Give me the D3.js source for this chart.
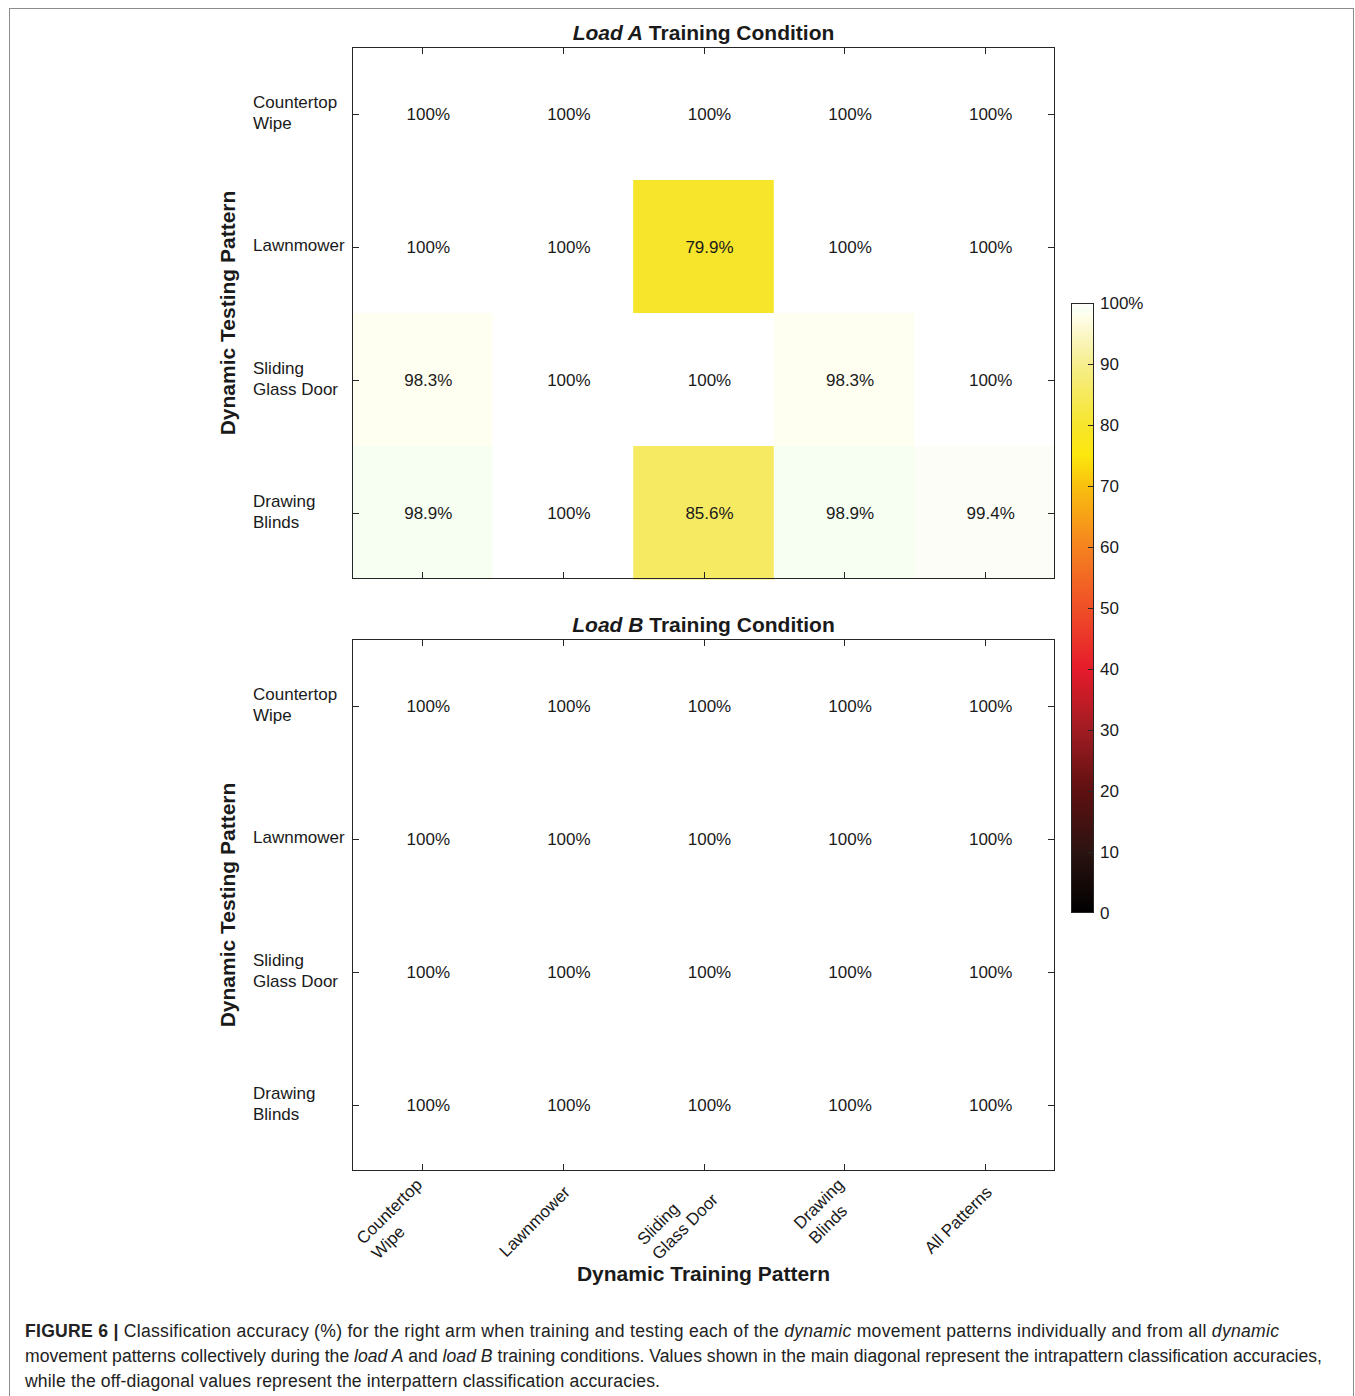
<!DOCTYPE html>
<html>
<head>
<meta charset="utf-8">
<script src="https://cdn.jsdelivr.net/npm/d3@7"></script>
<style>
  body { margin: 0; background: #fff; }
  svg { display: block; font-family: "Liberation Sans", Arial, sans-serif; }
</style>
</head>
<body>
<svg id="chart" width="1355" height="1396"></svg>
<script>
// training patterns (columns) and testing patterns (rows)
var trainLabels = [["Countertop", "Wipe"], ["Lawnmower"], ["Sliding", "Glass Door"], ["Drawing", "Blinds"], ["All Patterns"]];
var testLabels = [["Countertop", "Wipe"], ["Lawnmower"], ["Sliding", "Glass Door"], ["Drawing", "Blinds"]];

// accuracy (%) rows = testing, cols = training
var loadA = [
  [100, 100, 100, 100, 100],
  [100, 100, 79.9, 100, 100],
  [98.3, 100, 100, 98.3, 100],
  [98.9, 100, 85.6, 98.9, 99.4]
];
var loadB = [
  [100, 100, 100, 100, 100],
  [100, 100, 100, 100, 100],
  [100, 100, 100, 100, 100],
  [100, 100, 100, 100, 100]
];

var cbTicks = [0, 10, 20, 30, 40, 50, 60, 70, 80, 90, 100];

// colormap stops
var cmapStops = [0, 10, 20, 30, 40, 50, 60, 70, 75, 80, 90, 95, 98.3, 98.9, 99.4, 100];
var cmapColors = ["#000000", "#2b1311", "#5e1010", "#a01c22", "#e61b2b", "#ef4f27", "#f5821f", "#f9c00f", "#fce70d", "#f7e52c", "#f6ee8e", "#fbf7c8", "#fefff0", "#f7fef2", "#fcfdf7", "#ffffff"];

var color = d3.scaleLinear().domain(cmapStops).range(cmapColors).interpolate(d3.interpolateRgb);

var svg = d3.select("#chart");
var axisCol = "#262626";
var textCol = "#1a1a1a";

// outer figure frame
svg.append("rect").attr("x", 9.5).attr("y", 8.5).attr("width", 1344).attr("height", 1400)
  .attr("fill", "none").attr("stroke", "#8c8c8c").attr("stroke-width", 1);

var left = 352, right = 1055;
var x = d3.scaleBand().domain(d3.range(trainLabels.length)).range([left, right]).padding(0);

var panels = [
  { data: loadA, top: 47, bottom: 579, title: "Load A" },
  { data: loadB, top: 639, bottom: 1171, title: "Load B" }
];

panels.forEach(function (p, pi) {
  var y = d3.scaleBand().domain(d3.range(testLabels.length)).range([p.top, p.bottom]).padding(0);
  var g = svg.append("g");

  // cells
  p.data.forEach(function (row, r) {
    row.forEach(function (v, c) {
      g.append("rect")
        .attr("x", x(c)).attr("y", y(r))
        .attr("width", x.bandwidth() + 0.5).attr("height", y.bandwidth() + 0.5)
        .attr("fill", color(v));
      g.append("text")
        .attr("x", x(c) + x.bandwidth() / 2 + 6)
        .attr("y", y(r) + y.bandwidth() / 2 + 1)
        .attr("dy", "0.35em")
        .attr("text-anchor", "middle")
        .attr("font-size", 17)
        .attr("fill", textCol)
        .text((v === 100 ? "100" : v.toFixed(1)) + "%");
    });
  });

  // box + inward ticks
  g.append("rect").attr("x", left + 0.5).attr("y", p.top + 0.5)
    .attr("width", right - left - 1).attr("height", p.bottom - p.top - 1)
    .attr("fill", "none").attr("stroke", axisCol).attr("stroke-width", 1);

  var tl = 7;
  trainLabels.forEach(function (d, c) {
    var cx = Math.round(x(c) + x.bandwidth() / 2) + 0.5;
    g.append("line").attr("x1", cx).attr("x2", cx).attr("y1", p.top).attr("y2", p.top + tl).attr("stroke", axisCol);
    g.append("line").attr("x1", cx).attr("x2", cx).attr("y1", p.bottom).attr("y2", p.bottom - tl).attr("stroke", axisCol);
  });
  testLabels.forEach(function (d, r) {
    var cy = Math.round(y(r) + y.bandwidth() / 2) + 0.5;
    g.append("line").attr("x1", left).attr("x2", left + tl).attr("y1", cy).attr("y2", cy).attr("stroke", axisCol);
    g.append("line").attr("x1", right).attr("x2", right - tl).attr("y1", cy).attr("y2", cy).attr("stroke", axisCol);

    // y tick labels, left aligned
    var lh = 21;
    var t = g.append("text").attr("font-size", 17).attr("fill", textCol);
    d.forEach(function (line, i) {
      t.append("tspan").attr("x", 253)
        .attr("y", cy - 2 + (i - (d.length - 1) / 2) * lh)
        .attr("dy", "0.35em")
        .text(line);
    });
  });

  // panel title
  var tt = g.append("text").attr("x", (left + right) / 2).attr("y", p.top - 7)
    .attr("text-anchor", "middle").attr("font-size", 21).attr("font-weight", "bold").attr("fill", textCol);
  tt.append("tspan").attr("font-style", "italic").text(p.title);
  tt.append("tspan").text(" Training Condition");

  // y axis title
  svg.append("text")
    .attr("transform", "translate(235," + ((p.top + p.bottom) / 2) + ") rotate(-90)")
    .attr("text-anchor", "middle").attr("font-size", 21).attr("font-weight", "bold").attr("fill", textCol)
    .text("Dynamic Testing Pattern");

  // x tick labels only under the bottom panel (lines left aligned, block right end at tick)
  if (pi === panels.length - 1) {
    trainLabels.forEach(function (d, c) {
      var cx = x(c) + x.bandwidth() / 2 + 4;
      var lg = svg.append("g").attr("transform", "translate(" + cx + "," + (p.bottom + 18) + ") rotate(-45)");
      var lh = 21;
      var texts = d.map(function (line, i) {
        return lg.append("text").attr("font-size", 17).attr("fill", textCol)
          .attr("text-anchor", "start")
          .attr("y", (i - (d.length - 1) / 2) * lh)
          .attr("dy", "0.35em")
          .text(line);
      });
      var maxW = d3.max(texts, function (t) { return t.node().getComputedTextLength(); });
      texts.forEach(function (t) { t.attr("x", -maxW); });
    });

    svg.append("text").attr("x", (left + right) / 2).attr("y", 1281)
      .attr("text-anchor", "middle").attr("font-size", 21).attr("font-weight", "bold").attr("fill", textCol)
      .text("Dynamic Training Pattern");
  }
});

// colour bar
var cbX = 1071, cbW = 23, cbTop = 303, cbBottom = 913;
var cy = d3.scaleLinear().domain([0, 100]).range([cbBottom, cbTop]);
var defs = svg.append("defs");
var grad = defs.append("linearGradient").attr("id", "cb").attr("x1", 0).attr("x2", 0).attr("y1", 1).attr("y2", 0);
cmapStops.forEach(function (s, i) {
  grad.append("stop").attr("offset", (s / 100)).attr("stop-color", cmapColors[i]);
});
svg.append("rect").attr("x", cbX).attr("y", cbTop).attr("width", cbW).attr("height", cbBottom - cbTop)
  .attr("fill", "url(#cb)");
svg.append("rect").attr("x", cbX + 0.5).attr("y", cbTop + 0.5).attr("width", cbW - 1).attr("height", cbBottom - cbTop - 1)
  .attr("fill", "none").attr("stroke", axisCol);
cbTicks.forEach(function (t) {
  var ty = Math.round(cy(t)) + 0.5;
  if (t > 0 && t < 100) {
    svg.append("line").attr("x1", cbX + cbW - 6).attr("x2", cbX + cbW).attr("y1", ty).attr("y2", ty).attr("stroke", axisCol);
  }
  svg.append("text").attr("x", 1100).attr("y", cy(t)).attr("dy", "0.35em")
    .attr("font-size", 17).attr("fill", textCol)
    .text(t === 100 ? "100%" : t);
});

// caption
var capLines = [
  [["FIGURE 6 |", "b"], [" Classification accuracy (%) for the right arm when training and testing each of the ", ""], ["dynamic", "i"], [" movement patterns individually and from all ", ""], ["dynamic", "i"]],
  [["movement patterns collectively during the ", ""], ["load A", "i"], [" and ", ""], ["load B", "i"], [" training conditions. Values shown in the main diagonal represent the intrapattern classification accuracies,", ""]],
  [["while the off-diagonal values represent the interpattern classification accuracies.", ""]]
];
var capWidths = [1254, 1297, 635];
capLines.forEach(function (line, i) {
  var t = svg.append("text").attr("x", 25).attr("y", 1337 + i * 25)
    .attr("font-size", 17.6).attr("fill", "#222")
    .attr("textLength", capWidths[i]).attr("lengthAdjust", "spacing");
  line.forEach(function (seg) {
    var s = t.append("tspan").text(seg[0]);
    if (seg[1] === "b") s.attr("font-weight", "bold");
    if (seg[1] === "i") s.attr("font-style", "italic");
  });
});
</script>
</body>
</html>
